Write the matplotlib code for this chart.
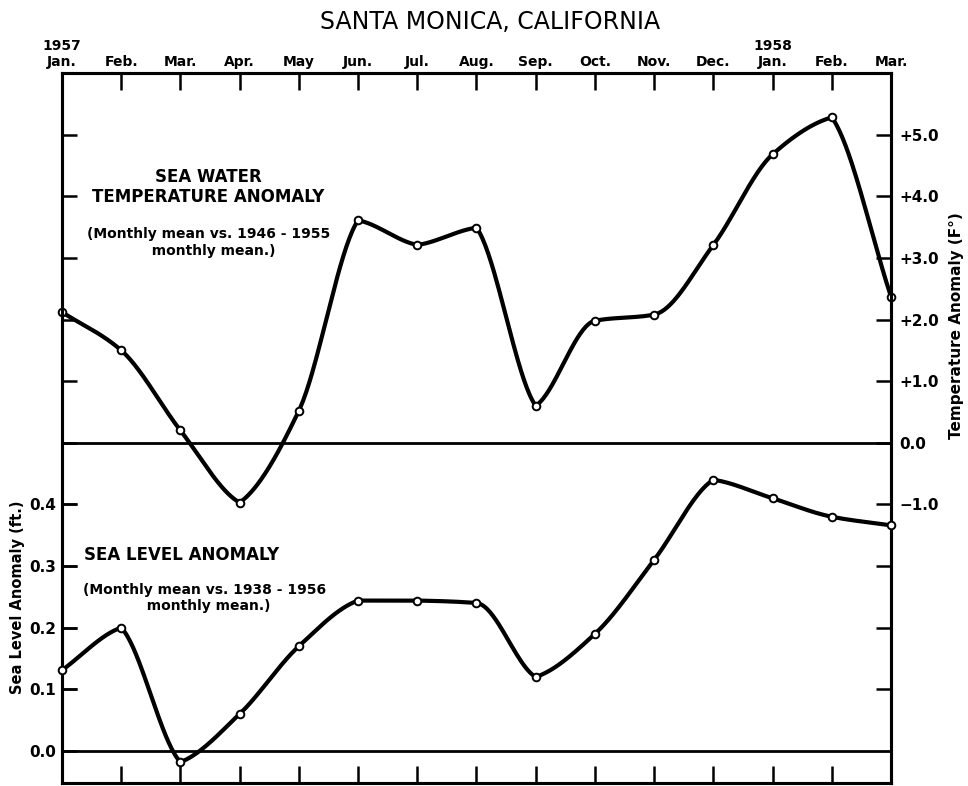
import numpy as np
import matplotlib
matplotlib.use("Agg")
import matplotlib.pyplot as plt

# ---------------- data ----------------
months = ["Jan.", "Feb.", "Mar.", "Apr.", "May", "Jun.", "Jul.", "Aug.",
          "Sep.", "Oct.", "Nov.", "Dec.", "Jan.", "Feb.", "Mar."]
year_marks = {0: "1957", 12: "1958"}
temp_anomaly = [2.12, 1.50, 0.20, -0.97, 0.52, 3.61, 3.21, 3.49,
                0.60, 1.98, 2.08, 3.21, 4.68, 5.28, 2.37]
sea_level = [0.131, 0.200, -0.018, 0.06, 0.17, 0.244, 0.244, 0.240,
             0.12, 0.19, 0.31, 0.44, 0.41, 0.38, 0.366]
temp_tick_labels = ["+5.0", "+4.0", "+3.0", "+2.0", "+1.0", "0.0", "\u22121.0"]
sea_ticks = [0.0, 0.1, 0.2, 0.3, 0.4]
sea_tick_labels = ["0.0", "0.1", "0.2", "0.3", "0.4"]

FONT = "DejaVu Sans"


def hand_curve(x, y, n=40):
    """Cubic Hermite curve through the points (drawing only):
    monotone slopes between points, corners at local extremes."""
    x = np.asarray(x, float)
    y = np.asarray(y, float)
    h = np.diff(x)
    d = np.diff(y) / h
    npt = len(y)
    mL = np.zeros(npt)  # slope arriving at point
    mR = np.zeros(npt)  # slope leaving point
    for k in range(1, npt - 1):
        if d[k - 1] * d[k] > 0:
            w1 = 2 * h[k] + h[k - 1]
            w2 = h[k] + 2 * h[k - 1]
            m = (w1 + w2) / (w1 / d[k - 1] + w2 / d[k])
            mL[k] = mR[k] = m
        else:
            mL[k] = 0.45 * d[k - 1]
            mR[k] = 0.45 * d[k]
    mR[0] = d[0]
    mL[-1] = d[-1]
    xs, ys = [], []
    for k in range(npt - 1):
        t = np.linspace(0, 1, n, endpoint=(k == npt - 2))
        h00 = 2 * t**3 - 3 * t**2 + 1
        h10 = t**3 - 2 * t**2 + t
        h01 = -2 * t**3 + 3 * t**2
        h11 = t**3 - t**2
        xs.append(x[k] + t * h[k])
        ys.append(h00 * y[k] + h10 * h[k] * mR[k] + h01 * y[k + 1] + h11 * h[k] * mL[k + 1])
    return np.concatenate(xs), np.concatenate(ys)


fig = plt.figure(figsize=(9.68, 7.86), dpi=100)
ax = fig.add_axes([62 / 968, 1 - 783 / 786, (891 - 62) / 968, (783 - 73) / 786])
ax_sea = ax.twinx()

t_lo, t_hi = -5.52, 6.0
ax.set_ylim(t_lo, t_hi)
ax_sea.set_ylim((t_lo + 5) / 10, (t_hi + 5) / 10)
x = np.arange(len(months))
ax.set_xlim(0, len(months) - 1)

for a in (ax, ax_sea):
    for s in a.spines.values():
        s.set_linewidth(2.2)

# zero lines
ax.axhline(0, color="black", lw=2.0, zorder=2)
ax_sea.axhline(0, color="black", lw=2.0, zorder=2)

# curves
xs, ys = hand_curve(x, temp_anomaly)
ax.plot(xs, ys, color="black", lw=3.0, solid_capstyle="round", solid_joinstyle="round", zorder=3)
ax.plot(x, temp_anomaly, "o", ms=5.5, mfc="white", mec="black", mew=1.4, zorder=4,
        clip_on=False)
xs2, ys2 = hand_curve(x, sea_level)
ax_sea.plot(xs2, ys2, color="black", lw=3.0, solid_capstyle="round", solid_joinstyle="round", zorder=3)
ax_sea.plot(x, sea_level, "o", ms=5.5, mfc="white", mec="black", mew=1.4, zorder=4,
            clip_on=False)

# x ticks: labels on top, ticks pointing inward top and bottom
ax.set_xticks(x)
xlabels = [(year_marks[i] + "\n" + m) if i in year_marks else m for i, m in enumerate(months)]
ax.set_xticklabels(xlabels, fontsize=10, fontweight="bold", family=FONT)
ax.tick_params(axis="x", top=True, bottom=True, labeltop=True, labelbottom=False,
               direction="in", length=12, width=1.8, pad=3)
for lab in ax.get_xticklabels():
    lab.set_linespacing(1.15)

# temperature axis (right)
all_t = [5, 4, 3, 2, 1, 0, -1, -2, -3, -4]
ax.set_yticks(all_t)
ax.set_yticklabels(temp_tick_labels + ["", "", ""], fontsize=11, fontweight="bold", family=FONT)
ax.tick_params(axis="y", left=True, right=True, labelleft=False, labelright=True,
               direction="in", length=11, width=1.8, pad=6)

# sea level axis (left)
ax_sea.set_yticks(sea_ticks)
ax_sea.set_yticklabels(sea_tick_labels, fontsize=11, fontweight="bold", family=FONT)
ax_sea.tick_params(axis="y", left=True, right=False, labelleft=True, labelright=False,
                   direction="in", length=11, width=1.8, pad=4)
ax_sea.yaxis.set_label_position("left")
ax_sea.set_ylabel("Sea Level Anomaly (ft.)", fontsize=10.5, fontweight="bold", family=FONT)
ax_sea.yaxis.set_label_coords(-0.045, (0.25 + 0.052) / 1.152)

ax.yaxis.set_label_position("right")
ax.set_ylabel("Temperature Anomaly (F\u00b0)", fontsize=11, fontweight="bold", family=FONT,
              rotation=90)
ax.yaxis.set_label_coords(1.07, (1.9 + 5.52) / 11.52)

# annotations
ax.text(2.47, 4.15, "SEA WATER\nTEMPERATURE ANOMALY", ha="center", va="center",
        fontsize=12, family=FONT, fontweight="bold", linespacing=1.1)
ax.text(2.48, 3.25, "(Monthly mean vs. 1946 - 1955\n  monthly mean.)", ha="center",
        va="center", fontsize=10, family=FONT, fontweight="bold", linespacing=1.2)
ax.text(2.02, -1.82, "SEA LEVEL ANOMALY", ha="center", va="center",
        fontsize=12, family=FONT, fontweight="bold")
ax.text(2.4, -2.52, "(Monthly mean vs. 1938 - 1956\n  monthly mean.)", ha="center",
        va="center", fontsize=10, family=FONT, fontweight="bold", linespacing=1.2)

fig.text(490 / 968, 1 - 22 / 786, "SANTA MONICA, CALIFORNIA", ha="center", va="center",
         fontsize=17, family=FONT)

fig.savefig("out.png", dpi=100)
